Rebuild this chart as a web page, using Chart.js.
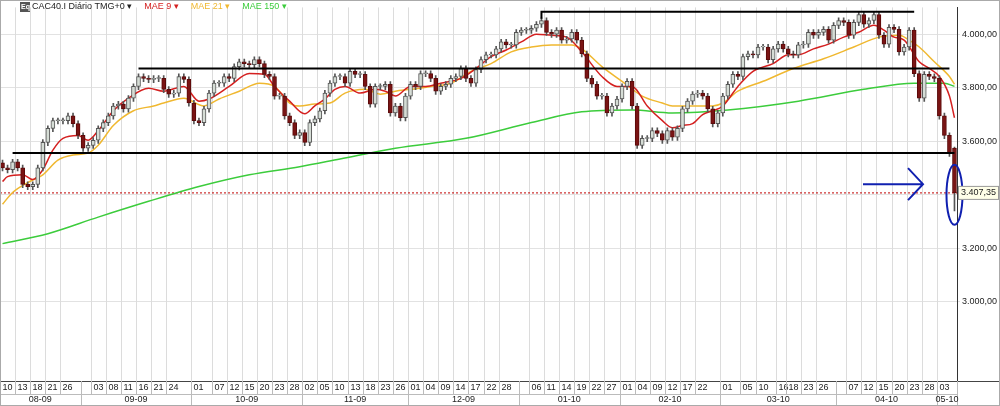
<!DOCTYPE html>
<html>
<head>
<meta charset="utf-8">
<script src="https://cdn.jsdelivr.net/npm/chart.js@4.4.0/dist/chart.umd.min.js"></script>
<style>
html, body { margin: 0; background: #fff; }
#wrap { width: 1000px; height: 406px; position: relative; }
</style>
</head>
<body>
<div id="wrap"><canvas id="chart"></canvas></div>
<script>
// daily closes, 10-08-2009 .. 06-05-2010
const closes = [
  3501,3494,3523,3501,3439,3431,3439,3501,3596,3648,3677,3677,3677,3695,3666,3622,3574,3585,3604,3648,
  3670,3695,3732,3739,3721,3761,3805,3842,3835,3831,3835,3835,3794,3776,3780,3842,3831,3743,3677,3670,
  3721,3780,3817,3817,3842,3835,3879,3897,3890,3886,3905,3890,3850,3842,3769,3769,3695,3670,3622,3633,
  3596,3670,3684,3714,3780,3817,3842,3842,3817,3861,3850,3850,3805,3739,3805,3805,3813,3706,3732,3688,
  3769,3813,3805,3853,3853,3835,3787,3805,3813,3835,3842,3872,3835,3817,3868,3905,3923,3923,3945,3971,
  3960,3960,4007,4015,4015,4022,4037,4051,4007,4000,4015,3978,3982,4007,3978,3927,3835,3813,3769,3769,
  3706,3732,3758,3805,3824,3732,3585,3611,3611,3640,3629,3604,3640,3615,3648,3721,3750,3776,3780,3769,
  3721,3666,3706,3769,3813,3850,3842,3916,3927,3923,3952,3952,3905,3945,3963,3945,3927,3923,3960,3963,
  4007,3996,4007,4018,3978,4033,4051,4044,3996,4044,4073,4037,4051,4073,3996,3963,4026,4018,3934,3952,
  4015,3853,3761,3850,3842,3835,3695,3622,3556,3407
];
const firstOpen = 3520;
const lastPrice = 3407.35;

// moving averages: [candle index, value]
const mae9 = [
  [0,3450],[1,3468],[4,3475],[6,3457],[8,3494],[10,3567],[12,3611],[15,3622],[17,3604],[19,3640],
  [22,3714],[25,3761],[29,3798],[32,3787],[36,3805],[39,3750],[41,3758],[45,3805],[49,3853],[52,3850],
  [54,3805],[57,3750],[60,3703],[62,3732],[64,3758],[66,3794],[68,3805],[71,3780],[74,3794],[76,3787],
  [78,3769],[81,3805],[84,3805],[87,3817],[91,3835],[94,3872],[97,3916],[100,3941],[103,3971],[106,4000],
  [109,3996],[112,3989],[115,3934],[119,3842],[122,3805],[125,3805],[128,3732],[131,3677],[133,3651],[135,3659],
  [137,3666],[139,3700],[141,3714],[143,3732],[146,3805],[149,3861],[153,3890],[156,3923],[158,3923],[161,3945],
  [164,3963],[167,3989],[170,4007],[173,4033],[175,4015],[177,3989],[179,3978],[182,3897],[184,3872],[186,3842],
  [188,3769],[189,3688]
];
const mae21 = [
  [0,3365],[2,3409],[5,3446],[8,3475],[11,3530],[14,3549],[17,3556],[19,3585],[22,3659],[26,3714],
  [30,3732],[32,3743],[36,3761],[40,3732],[43,3758],[47,3787],[51,3817],[54,3805],[57,3743],[59,3732],
  [62,3739],[65,3743],[68,3780],[72,3794],[75,3776],[78,3787],[81,3794],[85,3805],[89,3817],[93,3861],
  [97,3890],[101,3934],[105,3952],[109,3960],[113,3960],[115,3945],[119,3879],[123,3824],[127,3769],[131,3743],
  [133,3732],[135,3732],[138,3732],[141,3732],[143,3743],[146,3787],[151,3824],[157,3872],[163,3908],[169,3952],
  [174,3989],[178,3996],[180,3978],[182,3952],[185,3897],[188,3842],[189,3813]
];
const mae150 = [
  [0,3218],[9,3255],[19,3317],[29,3376],[39,3431],[49,3475],[59,3505],[67,3534],[78,3574],[92,3611],
  [105,3670],[115,3710],[125,3717],[133,3706],[144,3717],[158,3750],[171,3794],[181,3817],[187,3817],[189,3805]
];

// support / resistance lines drawn on the chart
const lineLow = [[2,3556],[189,3556]];
const lineMid = [[27,3872],[188,3872]];
const lineTop = [[107,4058],[107,4084],[181,4084]];

const dayLabels = ['10','13','18','21','26','03','08','11','16','21','24','01','07','12','15','20','23','28',
  '02','05','10','13','18','23','26','01','04','09','14','17','22','28','06','11','14','19','22','27',
  '01','04','09','12','17','22','01','05','10','16','18','23','26','07','12','15','20','23','28','03'];
const dayIdx = [0,3,6,9,12,18,21,24,27,30,33,38,42,45,48,51,54,57,60,63,66,69,72,75,78,81,84,87,90,93,96,99,
  105,108,111,114,117,120,123,126,129,132,135,138,143,147,150,154,156,159,162,168,171,174,177,180,183,186];
const monthLabels = ['08-09','09-09','10-09','11-09','12-09','01-10','02-10','03-10','04-10','05-10'];
const monthStart = [0,16,38,60,81,103,123,143,166,186,190];
const yTicks = [3000,3200,3400,3600,3800,4000];

function fmt(v) {
  const [a, b] = v.toFixed(2).split('.');
  return a.replace(/\B(?=(\d{3})+(?!\d))/g, '.') + ',' + b;
}

const opens = closes.map((c, i) => i === 0 ? firstOpen : closes[i - 1]);
opens[opens.length - 1] = 3575;
const wicks = closes.map((c, i) => {
  const hi = Math.max(c, opens[i]), lo = Math.min(c, opens[i]);
  return { x: i, y: [lo - 12, hi + 10] };
});
wicks[wicks.length - 1].y = [3340, 3578];
const bodies = closes.map((c, i) => ({ x: i, y: [opens[i], c === opens[i] ? c + 3 : c] }));
const up = closes.map((c, i) => c >= opens[i]);
const pts = arr => arr.map(p => ({ x: p[0], y: p[1] }));

const decor = {
  id: 'decor',
  beforeDatasetsDraw(chart) {
    const { ctx, chartArea: a, scales: { x } } = chart;
    ctx.save();
    ctx.strokeStyle = '#dcdcdc';
    ctx.lineWidth = 1;
    dayIdx.forEach(i => {
      const px = Math.round(x.getPixelForValue(i - 0.5)) + 0.5;
      ctx.beginPath(); ctx.moveTo(px, a.top); ctx.lineTo(px, a.bottom); ctx.stroke();
    });
    ctx.restore();
  },
  afterDraw(chart) {
    const { ctx, chartArea: a, scales: { x, y } } = chart;
    ctx.save();
    const r1 = a.bottom, r2 = a.bottom + 13, r3 = 405;
    ctx.strokeStyle = '#444';
    ctx.beginPath(); ctx.moveTo(0, r1 + 0.5); ctx.lineTo(1000, r1 + 0.5); ctx.stroke();
    ctx.strokeStyle = '#bbb';
    ctx.beginPath(); ctx.moveTo(0, r2 + 0.5); ctx.lineTo(a.right, r2 + 0.5); ctx.stroke();
    ctx.font = '9px Arial, "Liberation Sans"';
    ctx.fillStyle = '#222';
    ctx.textBaseline = 'middle';
    dayIdx.forEach((i, k) => {
      const px = Math.round(x.getPixelForValue(i - 0.5)) + 0.5;
      ctx.beginPath(); ctx.moveTo(px, r1); ctx.lineTo(px, r2); ctx.stroke();
      ctx.fillText(dayLabels[k], px + 2, r1 + 7);
    });
    ctx.textAlign = 'center';
    for (let k = 0; k < monthLabels.length; k++) {
      const p0 = x.getPixelForValue(monthStart[k] - 0.5);
      const p1 = Math.min(x.getPixelForValue(monthStart[k + 1] - 0.5), a.right);
      ctx.beginPath(); ctx.moveTo(Math.round(p1) + 0.5, r1); ctx.lineTo(Math.round(p1) + 0.5, r3); ctx.stroke();
      ctx.fillText(monthLabels[k], (p0 + p1) / 2, r2 + 6);
    }
    ctx.textAlign = 'left';
    ctx.fillStyle = '#555';
    ctx.fillRect(20, 2, 10, 10);
    ctx.fillStyle = '#fff';
    ctx.font = 'bold 7px Arial';
    ctx.fillText('Eq', 21, 7);
    ctx.font = '9px Arial, "Liberation Sans"';
    const items = [['CAC40.I Diário TMG+0', '#222'], ['MAE 9', '#d42020'], ['MAE 21', '#f0b830'], ['MAE 150', '#3ccc3c']];
    let tx = 32;
    items.forEach(([t, c]) => {
      ctx.fillStyle = c;
      ctx.fillText(t + ' \u25BE', tx, 7);
      tx += ctx.measureText(t + ' \u25BE').width + 12;
    });
    ctx.strokeStyle = '#1020b0';
    ctx.lineWidth = 2;
    const ay = y.getPixelForValue(3440);
    ctx.beginPath(); ctx.moveTo(863, ay); ctx.lineTo(922, ay);
    ctx.moveTo(908, ay - 16); ctx.lineTo(923, ay); ctx.lineTo(908, ay + 16); ctx.stroke();
    ctx.beginPath();
    ctx.ellipse(x.getPixelForValue(189), y.getPixelForValue(3400), 8, 30, 0, 0, Math.PI * 2);
    ctx.stroke();
    const py = y.getPixelForValue(lastPrice);
    ctx.fillStyle = '#ffffe8';
    ctx.strokeStyle = '#999';
    ctx.lineWidth = 1;
    ctx.fillRect(a.right + 1, py - 7, 41, 14);
    ctx.strokeRect(a.right + 1.5, py - 6.5, 40, 13);
    ctx.fillStyle = '#222';
    ctx.font = '9px Arial, "Liberation Sans"';
    ctx.fillText(fmt(lastPrice), a.right + 4, py);
    ctx.strokeStyle = '#aaa';
    ctx.strokeRect(0.5, 0.5, 999, 405);
    ctx.restore();
  }
};

new Chart(document.getElementById('chart'), {
  data: {
    datasets: [
      { type: 'line', data: pts(mae150), borderColor: '#3ccc3c', borderWidth: 1.5, pointRadius: 0, cubicInterpolationMode: 'monotone', order: 5 },
      { type: 'line', data: pts(mae21), borderColor: '#f0b830', borderWidth: 1.5, pointRadius: 0, cubicInterpolationMode: 'monotone', order: 4 },
      { type: 'line', data: pts(mae9), borderColor: '#d42020', borderWidth: 1.5, pointRadius: 0, cubicInterpolationMode: 'monotone', order: 3 },
      { type: 'line', data: [{ x: -0.5, y: lastPrice }, { x: 189.5, y: lastPrice }], borderColor: '#c00000', borderWidth: 1, borderDash: [2, 2], pointRadius: 0, order: 6 },
      { type: 'bar', data: wicks, backgroundColor: '#555', barThickness: 1, grouped: false, order: 2 },
      { type: 'bar', data: bodies, backgroundColor: up.map(u => u ? '#d6ddd6' : '#7a1414'),
        borderColor: up.map(u => u ? '#555' : '#5a0a0a'), borderWidth: 1, borderSkipped: false, barThickness: 4, grouped: false, order: 1 },
      { type: 'line', data: pts(lineLow), borderColor: '#000', borderWidth: 2, pointRadius: 0, order: 0 },
      { type: 'line', data: pts(lineMid), borderColor: '#000', borderWidth: 2, pointRadius: 0, order: 0 },
      { type: 'line', data: pts(lineTop), borderColor: '#000', borderWidth: 2, pointRadius: 0, order: 0 }
    ]
  },
  options: {
    responsive: true,
    maintainAspectRatio: false,
    animation: false,
    layout: { padding: { top: 0, left: 0, right: 0, bottom: 25 } },
    plugins: { legend: { display: false }, tooltip: { enabled: false } },
    scales: {
      x: { type: 'linear', min: -0.5, max: 189.5, offset: false, display: false },
      y: {
        position: 'right', min: 2705, max: 4100,
        afterBuildTicks: s => { s.ticks = yTicks.map(v => ({ value: v })); },
        afterFit: s => { s.width = 43; },
        grid: { color: '#e2e2e2', drawTicks: true, tickLength: 3 },
        border: { color: '#333' },
        ticks: { callback: v => fmt(v), color: '#222', font: { size: 9, family: 'Arial' }, padding: 2 }
      }
    }
  },
  plugins: [decor]
});
</script>
</body>
</html>
